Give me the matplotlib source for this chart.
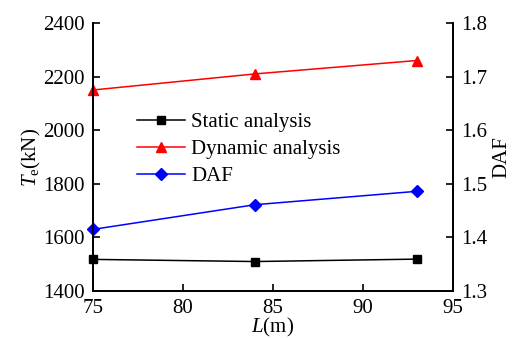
import matplotlib
matplotlib.use('Agg')
import matplotlib.pyplot as plt

plt.rcParams['font.family'] = ['Liberation Serif', 'DejaVu Serif']
plt.rcParams['mathtext.fontset'] = 'custom'
plt.rcParams['mathtext.rm'] = 'Liberation Serif'
plt.rcParams['mathtext.it'] = 'Liberation Serif:italic'

# data
lengths = [75, 84, 93]
static_te = [1518, 1510, 1519]
dynamic_te = [2150, 2210, 2260]
daf = [1.415, 1.461, 1.486]

fig = plt.figure(figsize=(5.14, 3.38), dpi=100)
ax = fig.add_axes([0.181, 0.139, 0.700, 0.793])
ax2 = ax.twinx()

l1, = ax.plot(lengths, static_te, color='black', marker='s', markersize=5.5, lw=1.1, label='Static analysis')
l2, = ax.plot(lengths, dynamic_te, color='red', marker='^', markersize=7.5, lw=1.1, label='Dynamic analysis')
l3, = ax2.plot(lengths, daf, color='blue', marker='D', markersize=6, lw=1.1, label='DAF')

ax.set_xlim(75, 95)
ax.set_ylim(1400, 2400)
ax2.set_ylim(1.3, 1.8)
ax.set_xticks([75, 80, 85, 90, 95])
ax.set_yticks([1400, 1600, 1800, 2000, 2200, 2400])
ax2.set_yticks([1.3, 1.4, 1.5, 1.6, 1.7, 1.8])

for a in (ax, ax2):
    a.spines['top'].set_visible(False)
    for s in a.spines.values():
        s.set_linewidth(1.3)
    a.tick_params(direction='in', labelsize=15, width=1.2, length=5, pad=6)
for l in (l1, l2, l3):
    l.set_clip_on(False)

ax.set_xlabel('$L$(m)', fontsize=15, labelpad=-1.5)
ax.set_ylabel('$T_\\mathrm{e}$(kN)', fontsize=15, labelpad=0)
ax2.set_ylabel('DAF', fontsize=15, labelpad=4)

fig.legend(handles=[l1, l2, l3], loc='upper left', bbox_to_anchor=(0.266, 0.668),
           frameon=False, fontsize=15, handlelength=2.3, handletextpad=0.3,
           labelspacing=0.36, borderaxespad=0, borderpad=0)

fig.savefig('out.png', dpi=100)
